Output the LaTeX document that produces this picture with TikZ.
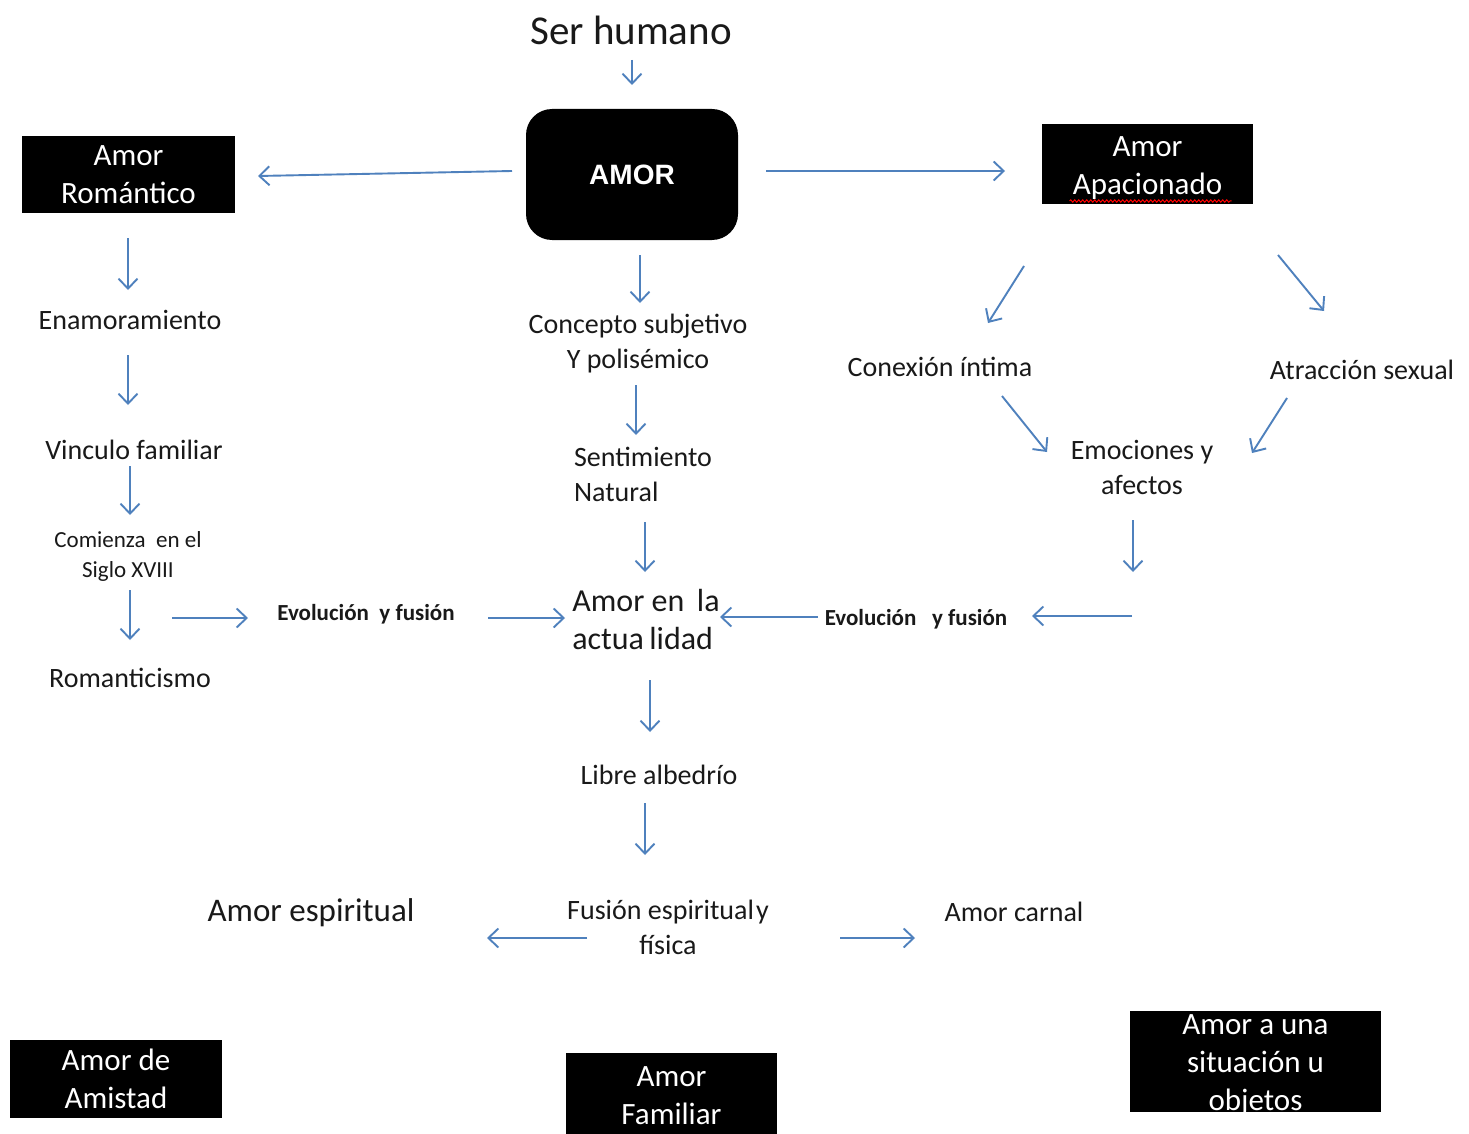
\documentclass[tikz,border=0pt]{standalone}
\usepackage{fontspec}
\setmainfont{Carlito}
\newfontfamily\arialfont{Liberation Sans}
\usetikzlibrary{arrows.meta,calc,decorations.pathmorphing}
\definecolor{arrblue}{RGB}{79,129,189}
\definecolor{txt}{RGB}{25,25,25}
\newcommand{\fs}[2]{\fontsize{#1}{#2}\selectfont}
\begin{document}
\begin{tikzpicture}[x=1pt,y=-1pt,
  arr/.style={draw=arrblue, line width=1.9pt, -{Straight Barb[length=10pt,width=19pt,line width=1.9pt]}},
  lbl/.style={text=txt, inner sep=0pt, align=center, font=\fs{28}{35}},
  blk/.style={fill=black, text=white, inner sep=0pt, align=center, font=\fs{31}{38}},
  boxtxt/.style={text=white, inner sep=0pt, align=center, font=\fs{31}{38}},
  evo/.style={text=txt, inner sep=0pt, font=\fs{23}{28}\bfseries},
]
\useasboundingbox (0,0) rectangle (1469,1134);
\fill[white] (0,0) rectangle (1469,1134);

% --- nodes ---
\node[lbl, font=\fs{41}{48}] (ser) at (631,30) {Ser humano};
\node[fill=black, rounded corners=26pt, minimum width=212pt, minimum height=131pt, text=white, font=\arialfont\fs{28}{34}\bfseries] (amor) at (632,174.5) {AMOR};
\node[blk, minimum width=213pt, minimum height=77pt] (rom) at (128.5,174.5) {Amor\\Romántico};
\node[blk, minimum width=211pt, minimum height=80pt,
      label={[boxtxt, yshift=-4pt]center:{Amor\\Apacionado}}] (apa) at (1147.5,164) {};
\draw[red, line width=1pt, decoration={snake, amplitude=1.2pt, segment length=4pt}, decorate] ($(apa)+(-78,37)$) -- ($(apa)+(84,37)$);

\node[lbl] (ena) at (130,320) {Enamoramiento};
\node[lbl] (vin) at (134,450) {Vinculo familiar};
\node[lbl, font=\fs{23}{30}] (com) at (128,556) {Comienza\ \ en el\\Siglo XVIII};
\node[lbl] (roman) at (130,678) {Romanticismo};
\node[evo] (evl) at (366,614) {Evolución\ \ y fusión};
\node[evo] (evr) at (916,619) {Evolución\ \ \ y fusión};

\node[lbl] (con) at (638,344) {Concepto subjetivo\\Y polisémico};
\node[lbl, align=left] (sen) at (643,474) {Sentimiento\\Natural};
\node[lbl, align=left, font=\fs{32}{38}] (act) at (646,620) {Amor en\, la\\actua\,lidad};
\node[lbl] (lib) at (659,775) {Libre albedrío};
\node[lbl] (fus) at (668,927) {Fusión espiritual\hspace{2pt}y\\física};
\node[lbl, font=\fs{33}{38}] (esp) at (311,913) {Amor espiritual};
\node[lbl] (car) at (1014,912) {Amor carnal};

\node[lbl] (cxi) at (940,367) {Conexión íntima};
\node[lbl] (atr) at (1362,370) {Atracción sexual};
\node[lbl] (emo) at (1142,467) {Emociones y\\afectos};

\node[blk, minimum width=212pt, minimum height=78pt] (ami) at (116,1079) {Amor de\\Amistad};
\node[blk, minimum width=211pt, minimum height=82pt,
      label={[boxtxt, yshift=-2pt]center:{Amor\\Familiar}}] (fam) at (671.5,1094) {};
\node[blk, minimum width=251pt, minimum height=101pt,
      label={[boxtxt, yshift=-4pt]center:{Amor a una\\situación u\\objetos}}] (obj) at (1255.5,1061.5) {};

% --- connectors ---
\draw[arr] ($(ser)+(1,30)$) -- ($(amor)+(0,-89.5)$);
\draw[arr] ($(amor)+(-120,-3.5)$) -- ($(rom)+(129.5,1.5)$);
\draw[arr] ($(amor)+(134,-3.5)$) -- ($(apa)+(-142.5,7)$);

\draw[arr] ($(rom)+(-0.5,63.5)$) -- ($(ena)+(-2,-30)$);
\draw[arr] ($(ena)+(-2,35)$) -- ($(vin)+(-6,-45)$);
\draw[arr] ($(vin)+(-4,16)$) -- ($(com)+(2,-41)$);
\draw[arr] ($(com)+(2,34)$) -- ($(roman)+(0,-38)$);
\draw[arr] ($(com)+(44,62)$) -- ($(evl)+(-118,4)$);
\draw[arr] ($(evl)+(122,4)$) -- ($(act)+(-81,-2)$);

\draw[arr] ($(amor)+(8,80.5)$) -- ($(con)+(2,-41)$);
\draw[arr] ($(con)+(-2,41)$) -- ($(sen)+(-7,-39)$);
\draw[arr] ($(sen)+(2,48)$) -- ($(act)+(-1,-48)$);
\draw[arr] ($(evr)+(-98,-2)$) -- ($(act)+(74,-3)$);
\draw[arr] ($(emo)+(-10,149)$) -- ($(evr)+(116,-3)$);
\draw[arr] ($(emo)+(-9,53)$) -- ($(emo)+(-9,105)$);

\draw[arr] ($(apa)+(-123.5,102)$) -- ($(cxi)+(48,-44)$);
\draw[arr] ($(apa)+(130.5,91)$) -- ($(atr)+(-38,-59)$);
\draw[arr] ($(cxi)+(62,29)$) -- ($(emo)+(-95,-15)$);
\draw[arr] ($(atr)+(-75,28)$) -- ($(emo)+(110,-14)$);

\draw[arr] ($(act)+(4,60)$) -- ($(lib)+(-9,-43)$);
\draw[arr] ($(lib)+(-14,28)$) -- ($(fus)+(-23,-72)$);
\draw[arr] ($(fus)+(-81,11)$) -- ($(esp)+(176,25)$);
\draw[arr] ($(fus)+(172,11)$) -- ($(car)+(-99,26)$);
\end{tikzpicture}
\end{document}
